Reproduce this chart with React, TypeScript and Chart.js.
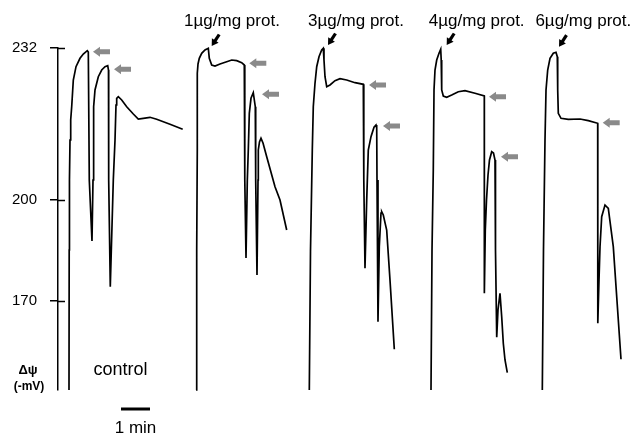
import React, { useEffect, useRef } from "react";
import { Chart, registerables } from "chart.js";

Chart.register(...registerables);

// x: time in minutes; y: membrane-potential signal (arbitrary trace units)
const CONTROL: [number, number][] = [
  [0.379, 0], [0.386, 140], [0.395, 210], [0.414, 250], [0.438, 270], [0.472, 283.3], [0.528, 310], [0.621, 323.3], [0.759, 331.7], [0.872, 336], [1.01, 339.3],
  [1.045, 338], [1.079, 210], [1.172, 149], [1.207, 210], [1.217, 250], [1.241, 283.3], [1.276, 300], [1.39, 313.3], [1.507, 320], [1.621, 323.3], [1.714, 324.3],
  [1.741, 320], [1.748, 210], [1.803, 103.3], [1.907, 210], [1.966, 250], [2.0, 285], [2.024, 291.7], [2.079, 293.3], [2.197, 290], [2.369, 283.3],
  [2.597, 276], [2.769, 271], [2.941, 271.7], [3.172, 272.7], [3.403, 270.7], [3.862, 265.7], [4.3, 260.7],
];
const DOSE_1: [number, number][] = [
  [4.759, 0], [4.783, 140], [4.803, 240], [4.803, 316.7], [4.828, 326], [4.872, 331.7], [4.955, 336.7], [5.069, 340], [5.183, 341.7],
  [5.217, 331.7], [5.3, 325], [5.414, 324], [5.586, 326], [5.817, 328.3], [5.99, 330], [6.162, 329.3], [6.334, 327.3], [6.424, 325],
  [6.441, 210], [6.483, 132], [6.528, 210], [6.562, 240], [6.597, 276.7], [6.655, 291.7], [6.734, 297.3], [6.803, 283.3],
  [6.817, 210], [6.862, 115], [6.897, 210], [6.907, 240], [6.948, 248], [7.0, 251.7], [7.069, 247], [7.197, 233.3],
  [7.483, 203.3], [7.655, 190], [7.886, 160],
];
const DOSE_3: [number, number][] = [
  [8.666, 0], [8.707, 140], [8.769, 240], [8.803, 283.3], [8.862, 306.7], [8.921, 323.3], [9.0, 333.3], [9.093, 340], [9.148, 341.7],
  [9.172, 330], [9.207, 313.3], [9.266, 303.3], [9.379, 305], [9.552, 309.3], [9.724, 311.3], [9.955, 310], [10.241, 307.3], [10.528, 305.7],
  [10.545, 210], [10.586, 121.7], [10.645, 190], [10.7, 240], [10.793, 253.3], [10.897, 262.7], [10.966, 265], [10.99, 262],
  [11.0, 210], [11.034, 68.3], [11.079, 143.3], [11.138, 177], [11.162, 178.3], [11.217, 175], [11.334, 160], [11.448, 110], [11.597, 40.7],
];
const DOSE_4: [number, number][] = [
  [12.862, 0], [12.897, 140], [12.941, 220], [12.966, 300], [13.0, 320], [13.059, 330], [13.138, 336.7], [13.197, 340.7],
  [13.214, 330], [13.231, 300], [13.286, 294], [13.403, 292.7], [13.576, 295], [13.803, 298.3], [14.034, 299.3], [14.379, 296.7], [14.7, 294],
  [14.697, 190], [14.707, 96.7], [14.734, 160], [14.776, 190], [14.828, 215], [14.879, 230], [14.955, 238.3], [15.017, 237], [15.069, 230],
  [15.086, 140], [15.128, 52.7], [15.172, 80], [15.241, 96.7], [15.3, 73.3], [15.355, 46.7], [15.414, 30], [15.493, 17.3],
];
const DOSE_6: [number, number][] = [
  [16.7, 0], [16.741, 140], [16.793, 250], [16.828, 300], [16.886, 320], [16.966, 331.7], [17.079, 336.7], [17.172, 337.7],
  [17.217, 333.3], [17.231, 300], [17.252, 276.7], [17.345, 271.7], [17.597, 270.7], [18.0, 271], [18.286, 269.3], [18.61, 266.7],
  [18.614, 66.7], [18.655, 110], [18.69, 143.3], [18.748, 173.3], [18.862, 185], [18.976, 181.7],
  [19.148, 143.3], [19.266, 93.3], [19.414, 30.7],
];

const TICK_VALUES = [342, 190, 89];
const TICK_LABELS = ["232", "200", "170"];

const DOSE_LABELS = ["1µg/mg prot.", "3µg/mg prot.", "4µg/mg prot.", "6µg/mg prot."];
const DOSE_LABEL_X = [6.0, 10.276, 14.438, 18.114];
const DOSE_LABEL_Y = 369;

// black arrows: tip at additions (x, y)
const ADDITION_ARROWS: [number, number][] = [[5.3, 344], [9.31, 345], [13.403, 345], [17.276, 343.3]];
// grey arrows: tips at (x, y)
const GREY_ARROWS: [number, number][] = [
  [1.172, 338.3], [1.897, 320.7], [6.562, 326.7], [7.0, 295.7], [10.69, 305], [11.172, 264],
  [14.828, 293.3], [15.241, 233.3], [18.748, 267.3],
];

const SCALE_BAR: [number, number] = [2.172, 3.172];
const SCALE_BAR_Y = -19;
const SCALE_LABEL = "1 min";
const CONTROL_LABEL = "control";
const CONTROL_LABEL_POS: [number, number] = [2.155, 20];

const FONT = "'Liberation Sans', Arial, Helvetica, sans-serif";

const annotate = {
  id: "annotate",
  afterDatasetsDraw(chart: any) {
    const ctx = chart.ctx as CanvasRenderingContext2D;
    const xs = chart.scales.x;
    const ys = chart.scales.y;
    const left = chart.chartArea.left;
    ctx.save();
    // inner part of tick marks
    ctx.strokeStyle = "#000";
    ctx.lineWidth = 1.5;
    TICK_VALUES.forEach((v) => {
      const py = Math.round(ys.getPixelForValue(v)) + 0.5;
      ctx.beginPath();
      ctx.moveTo(left, py);
      ctx.lineTo(left + 7, py);
      ctx.stroke();
    });
    // grey arrows
    ctx.fillStyle = "#8a8a8a";
    GREY_ARROWS.forEach(([x, y]) => {
      const tx = xs.getPixelForValue(x) + 1;
      const ty = ys.getPixelForValue(y);
      ctx.beginPath();
      ctx.moveTo(tx, ty);
      ctx.lineTo(tx + 7, ty - 5);
      ctx.lineTo(tx + 7, ty - 2.5);
      ctx.lineTo(tx + 17, ty - 2.5);
      ctx.lineTo(tx + 17, ty + 2.5);
      ctx.lineTo(tx + 7, ty + 2.5);
      ctx.lineTo(tx + 7, ty + 5);
      ctx.closePath();
      ctx.fill();
    });
    // black addition arrows
    ctx.fillStyle = "#000";
    ctx.strokeStyle = "#000";
    ADDITION_ARROWS.forEach(([x, y]) => {
      const tx = xs.getPixelForValue(x);
      const ty = ys.getPixelForValue(y);
      const dx = 7.5, dy = -11.5;
      const len = Math.hypot(dx, dy);
      const ux = dx / len, uy = dy / len;
      const nx = -uy, ny = ux;
      const headLen = 6.5, headW = 4;
      ctx.lineWidth = 3.2;
      ctx.beginPath();
      ctx.moveTo(tx + ux * headLen * 0.8, ty + uy * headLen * 0.8);
      ctx.lineTo(tx + dx, ty + dy);
      ctx.stroke();
      ctx.beginPath();
      ctx.moveTo(tx, ty);
      ctx.lineTo(tx + ux * headLen + nx * headW, ty + uy * headLen + ny * headW);
      ctx.lineTo(tx + ux * headLen - nx * headW, ty + uy * headLen - ny * headW);
      ctx.closePath();
      ctx.fill();
    });
    // dose labels
    ctx.fillStyle = "#000";
    ctx.textAlign = "center";
    ctx.textBaseline = "middle";
    ctx.font = `17px ${FONT}`;
    DOSE_LABELS.forEach((t, i) => {
      ctx.fillText(t, xs.getPixelForValue(DOSE_LABEL_X[i]), ys.getPixelForValue(DOSE_LABEL_Y));
    });
    // control label
    ctx.font = `18px ${FONT}`;
    ctx.fillText(CONTROL_LABEL, xs.getPixelForValue(CONTROL_LABEL_POS[0]), ys.getPixelForValue(CONTROL_LABEL_POS[1]));
    // scale bar
    const sy = ys.getPixelForValue(SCALE_BAR_Y);
    ctx.lineWidth = 3;
    ctx.beginPath();
    ctx.moveTo(xs.getPixelForValue(SCALE_BAR[0]), sy);
    ctx.lineTo(xs.getPixelForValue(SCALE_BAR[1]), sy);
    ctx.stroke();
    ctx.font = `17px ${FONT}`;
    ctx.fillText(SCALE_LABEL, xs.getPixelForValue((SCALE_BAR[0] + SCALE_BAR[1]) / 2), sy + 19);
    // axis title
    ctx.font = `bold 13px ${FONT}`;
    ctx.fillText("Δψ", left - 30, ys.getPixelForValue(20));
    ctx.font = `bold 12px ${FONT}`;
    ctx.fillText("(-mV)", left - 29, ys.getPixelForValue(3.5));
    ctx.restore();
  },
};

export default function App() {
  const ref = useRef<HTMLCanvasElement | null>(null);
  useEffect(() => {
    document.body.style.margin = "0";
    const canvas = ref.current!;
    const mk = (d: [number, number][]) => ({
      data: d.map(([x, y]) => ({ x, y })),
      borderColor: "#000",
      borderWidth: 1.7,
      pointRadius: 0,
      tension: 0,
      fill: false,
      clip: false as any,
    });
    const chart = new Chart(canvas, {
      type: "line",
      data: { datasets: [mk(CONTROL), mk(DOSE_1), mk(DOSE_3), mk(DOSE_4), mk(DOSE_6)] },
      options: {
        animation: false,
        responsive: false,
        devicePixelRatio: 1,
        layout: { padding: { left: 0, right: 3, top: 48, bottom: 48 } },
        plugins: { legend: { display: false }, tooltip: { enabled: false } },
        scales: {
          x: { type: "linear", min: 0, max: 20, display: false },
          y: {
            type: "linear",
            min: 0,
            max: 342,
            afterFit: (s: any) => { s.width = 58; },
            afterBuildTicks: (s: any) => { s.ticks = TICK_VALUES.map((v) => ({ value: v })); },
            ticks: {
              color: "#000",
              padding: 13,
              font: { family: FONT, size: 15 },
              callback: (v: any) => {
                const i = TICK_VALUES.indexOf(Number(v));
                return i >= 0 ? TICK_LABELS[i] : "";
              },
            },
            grid: { drawOnChartArea: false, drawTicks: true, tickLength: 8, color: "#000", lineWidth: 1.5 },
            border: { display: true, color: "#000", width: 1.5 },
          },
        },
      },
      plugins: [annotate],
    });
    return () => chart.destroy();
  }, []);
  return (
    <div style={{ position: "absolute", left: 0, top: 0, width: 641, height: 438, background: "#fff" }}>
      <canvas ref={ref} width={641} height={438} style={{ display: "block" }} />
    </div>
  );
}
